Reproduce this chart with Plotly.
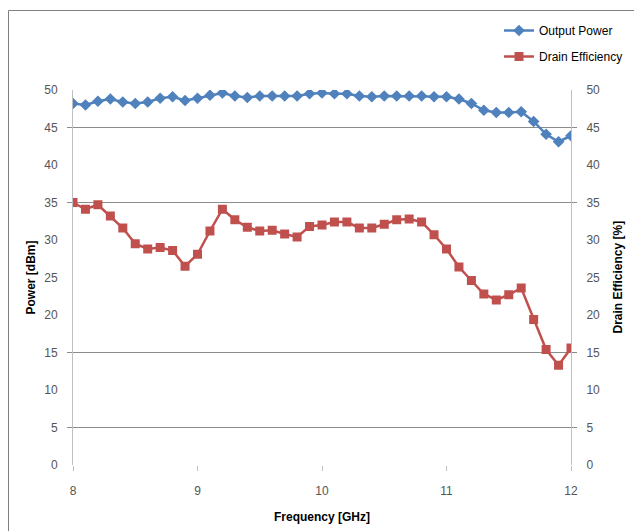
import plotly.graph_objects as go

freq_ghz = [8.0, 8.1, 8.2, 8.3, 8.4, 8.5, 8.6, 8.7, 8.8, 8.9, 9.0,
            9.1, 9.2, 9.3, 9.4, 9.5, 9.6, 9.7, 9.8, 9.9, 10.0,
            10.1, 10.2, 10.3, 10.4, 10.5, 10.6, 10.7, 10.8, 10.9, 11.0,
            11.1, 11.2, 11.3, 11.4, 11.5, 11.6, 11.7, 11.8, 11.9, 12.0]

output_power_dbm = [48.2, 48.0, 48.5, 48.8, 48.4, 48.2, 48.4, 48.9, 49.1, 48.6, 48.9,
                    49.3, 49.6, 49.2, 49.0, 49.2, 49.2, 49.2, 49.2, 49.5, 49.6,
                    49.5, 49.5, 49.2, 49.1, 49.2, 49.2, 49.2, 49.2, 49.1, 49.1,
                    48.8, 48.2, 47.3, 47.0, 47.0, 47.1, 45.8, 44.1, 43.1, 43.9]

drain_efficiency_pct = [35.0, 34.1, 34.7, 33.2, 31.6, 29.5, 28.8, 29.0, 28.6, 26.5, 28.1,
                        31.2, 34.1, 32.7, 31.7, 31.2, 31.3, 30.8, 30.4, 31.8, 32.0,
                        32.4, 32.4, 31.6, 31.6, 32.1, 32.7, 32.8, 32.4, 30.7, 28.8,
                        26.4, 24.6, 22.8, 22.0, 22.7, 23.6, 19.4, 15.4, 13.3, 15.6]

x_ticks = [8, 9, 10, 11, 12]
y_ticks = [0, 5, 10, 15, 20, 25, 30, 35, 40, 45, 50]
grid_values = [5, 15, 35, 45]

BLUE = "#4F81BD"
RED = "#C0504D"
TICK_FONT = dict(family="Liberation Sans Narrow, Liberation Sans, Arial", size=12, color="#555555")
TITLE_FONT = dict(family="Liberation Sans, Arial", size=12, color="#000000")

fig = go.Figure()
fig.add_trace(go.Scatter(
    x=freq_ghz, y=output_power_dbm, name="Output Power", mode="lines+markers",
    line=dict(color=BLUE, width=2.5),
    marker=dict(symbol="diamond", size=9, color=BLUE),
    yaxis="y", legendgroup="a"))
fig.add_trace(go.Scatter(
    x=freq_ghz, y=drain_efficiency_pct, name="Drain Efficiency", mode="lines+markers",
    line=dict(color=RED, width=2.5),
    marker=dict(symbol="square", size=9, color=RED),
    yaxis="y2", legendgroup="b"))

# screenshot pixel positions are offset by the page's body margin
OFF = 8
W, H = 642, 531
PL, PR, PT, PB = 73, 571, 90, 465  # plot edges as seen in screenshot
L = PL - OFF
R = W - (PR - OFF)
T = PT - OFF
B = H - (PB - OFF)
pw, ph = PR - PL, PB - PT

def px_x(p):
    return (p - PL) / pw

def px_y(p):
    return (PB - p) / ph

fig.update_layout(
    width=W, height=H,
    margin=dict(l=L, r=R, t=T, b=B, autoexpand=False),
    paper_bgcolor="white", plot_bgcolor="white",
    showlegend=True,
    legend=dict(x=px_x(499), y=px_y(16), xanchor="left", yanchor="top",
                font=dict(family="Liberation Sans, Arial", size=12, color="#000000"),
                traceorder="grouped", tracegroupgap=7, bgcolor="rgba(0,0,0,0)",
                itemwidth=30),
    xaxis=dict(range=[8, 12], tickvals=x_ticks, ticktext=[str(v) for v in x_ticks],
               showgrid=False, zeroline=False, showline=False,
               ticks="outside", ticklen=5, tickcolor="#bfbfbf",
               tickfont=TICK_FONT, ticklabelstandoff=10),
    yaxis=dict(range=[0, 50], tickvals=y_ticks, showgrid=False, zeroline=False,
               showline=True, linecolor="#bfbfbf", linewidth=1, ticks="",
               tickfont=TICK_FONT, ticklabelstandoff=12),
    yaxis2=dict(range=[0, 50], tickvals=y_ticks, overlaying="y", side="right",
                showgrid=False, zeroline=False, showline=True, linecolor="#bfbfbf",
                linewidth=1, ticks="", tickfont=TICK_FONT, ticklabelstandoff=12),
    yaxis3=dict(range=[0, 50], tickvals=grid_values, overlaying="y", side="left",
                showgrid=True, gridcolor="#8c8c8c", gridwidth=1, zeroline=False,
                showline=False, ticks="outside", ticklen=5, tickcolor="#8c8c8c",
                showticklabels=False),
    yaxis4=dict(range=[0, 50], tickvals=grid_values, overlaying="y", side="right",
                showgrid=False, zeroline=False, showline=False, ticks="outside",
                ticklen=5, tickcolor="#8c8c8c", showticklabels=False),
    shapes=[dict(type="rect", xref="paper", yref="paper",
                 x0=px_x(8.5), x1=px_x(700), y0=px_y(600), y1=px_y(10.5),
                 line=dict(color="#7f7f7f", width=1), layer="below")],
    annotations=[
        dict(text="<b>Power [dBm]</b>", xref="paper", yref="paper",
             x=px_x(30), y=0.5, textangle=-90, showarrow=False, font=TITLE_FONT,
             xanchor="center", yanchor="middle"),
        dict(text="<b>Drain Efficiency [%]</b>", xref="paper", yref="paper",
             x=px_x(617), y=0.5, textangle=-90, showarrow=False, font=TITLE_FONT,
             xanchor="center", yanchor="middle"),
        dict(text="<b>Frequency [GHz]</b>", xref="paper", yref="paper",
             x=0.5, y=px_y(517), showarrow=False, font=TITLE_FONT,
             xanchor="center", yanchor="middle"),
    ],
)

# empty traces so the grid/tick axes are drawn
fig.add_trace(go.Scatter(x=[None], y=[None], yaxis="y3", showlegend=False, hoverinfo="skip"))
fig.add_trace(go.Scatter(x=[None], y=[None], yaxis="y4", showlegend=False, hoverinfo="skip"))

fig.write_html("out.html")
